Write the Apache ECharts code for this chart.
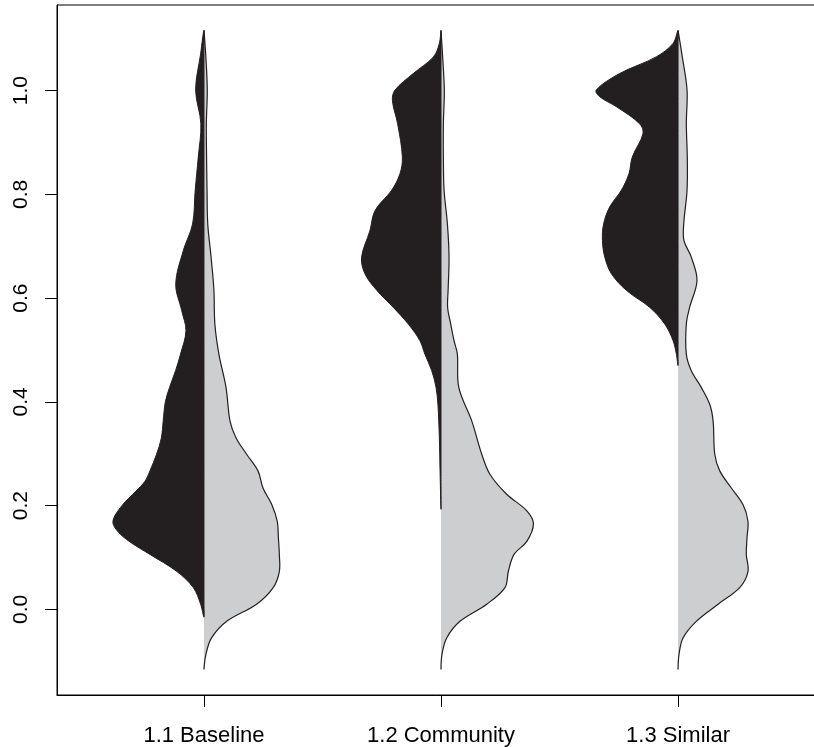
<!DOCTYPE html>
<html>
<head>
<meta charset="utf-8">
<script src="https://cdn.jsdelivr.net/npm/echarts@6/dist/echarts.min.js"></script>
<style>
  html, body { margin: 0; padding: 0; background: #fff; }
  #main { width: 814px; height: 747px; }
</style>
</head>
<body>
<div id="main"></div>
<script>
// bean names on the x axis
var categories = ['1.1 Baseline', '1.2 Community', '1.3 Similar'];
var yTicks = [0, 0.2, 0.4, 0.6, 0.8, 1.0];

// half widths of each bean, [value, width in x units], top to bottom
var baselineLeft = [[1.116,0],[1.071,0.014],[1.001,0.035],[0.936,0.013],[0.872,0.024],[0.808,0.037],[0.743,0.048],[0.692,0.087],[0.627,0.119],[0.576,0.094],[0.537,0.076],[0.492,0.099],[0.46,0.120],[0.428,0.145],[0.40,0.163],[0.363,0.172],[0.33,0.180],[0.299,0.200],[0.267,0.228],[0.247,0.249],[0.228,0.287],[0.2,0.346],[0.17,0.384],[0.15,0.363],[0.13,0.312],[0.106,0.228],[0.073,0.114],[0.042,0.045],[0.01,0.014],[-0.015,0]];
var baselineRight = [[1.116,0],[1.065,0.008],[1.001,0.014],[0.936,0.010],[0.872,0.011],[0.808,0.013],[0.743,0.016],[0.679,0.030],[0.615,0.042],[0.550,0.046],[0.492,0.063],[0.428,0.093],[0.363,0.110],[0.331,0.135],[0.299,0.180],[0.267,0.228],[0.234,0.249],[0.202,0.286],[0.170,0.309],[0.138,0.314],[0.106,0.318],[0.073,0.318],[0.042,0.292],[0.01,0.222],[-0.023,0.096],[-0.055,0.032],[-0.087,0.008],[-0.116,0]];

var communityLeft = [[1.116,0],[1.091,0.007],[1.065,0.032],[1.033,0.117],[1.001,0.194],[0.981,0.205],[0.936,0.183],[0.872,0.163],[0.840,0.173],[0.808,0.208],[0.769,0.278],[0.730,0.300],[0.679,0.335],[0.647,0.321],[0.615,0.271],[0.582,0.201],[0.550,0.138],[0.518,0.089],[0.492,0.068],[0.46,0.039],[0.428,0.021],[0.395,0.013],[0.331,0.007],[0.267,0.004],[0.193,0]];
var communityRight = [[1.116,0],[1.065,0.007],[1.001,0.014],[0.936,0.010],[0.872,0.010],[0.808,0.013],[0.743,0.027],[0.679,0.034],[0.615,0.030],[0.582,0.028],[0.550,0.041],[0.518,0.055],[0.492,0.069],[0.428,0.075],[0.363,0.130],[0.299,0.172],[0.26,0.207],[0.222,0.277],[0.19,0.362],[0.165,0.390],[0.131,0.362],[0.106,0.308],[0.073,0.284],[0.042,0.270],[0.01,0.193],[-0.023,0.080],[-0.055,0.024],[-0.087,0.004],[-0.116,0]];

var similarLeft = [[1.116,0],[1.091,0.021],[1.065,0.092],[1.033,0.246],[1.001,0.345],[0.988,0.330],[0.969,0.260],[0.936,0.162],[0.917,0.148],[0.872,0.193],[0.840,0.207],[0.808,0.239],[0.776,0.288],[0.743,0.314],[0.711,0.319],[0.679,0.309],[0.647,0.281],[0.615,0.218],[0.582,0.119],[0.550,0.056],[0.518,0.021],[0.492,0.007],[0.47,0]];
var similarRight = [[1.116,0],[1.065,0.018],[1.001,0.038],[0.936,0.035],[0.872,0.039],[0.808,0.038],[0.743,0.024],[0.711,0.025],[0.679,0.056],[0.634,0.080],[0.582,0.049],[0.550,0.035],[0.492,0.035],[0.46,0.056],[0.428,0.098],[0.395,0.134],[0.363,0.148],[0.299,0.155],[0.267,0.176],[0.234,0.225],[0.202,0.274],[0.17,0.295],[0.138,0.291],[0.106,0.288],[0.073,0.295],[0.042,0.260],[0.01,0.169],[-0.023,0.077],[-0.055,0.021],[-0.087,0.004],[-0.116,0]];

var leftSides = [baselineLeft, communityLeft, similarLeft];
var rightSides = [baselineRight, communityRight, similarRight];

var DARK = '#231f20';
var LIGHT = '#cdcecf';
var FONT = 'Liberation Sans, Arial, Helvetica, sans-serif';

var chart = echarts.init(document.getElementById('main'), null, {renderer: 'canvas'});

// one half of a bean: filled polygon, plus outline on the curved edge
function halfShape(api, c, side, dir, fill, outline) {
    var edge = side.map(function (p) { return api.coord([c + dir * p[1], p[0]]); });
    var centre = side.slice(1, side.length - 1).reverse().map(function (p) { return api.coord([c, p[0]]); });
    var kids = [{
        type: 'polygon',
        shape: {points: edge.concat(centre), smooth: 0.35},
        style: {fill: fill, stroke: outline ? null : fill, lineWidth: outline ? 0 : 1}
    }];
    if (outline) {
        kids.push({
            type: 'polyline',
            shape: {points: edge, smooth: 0.35},
            style: {fill: null, stroke: DARK, lineWidth: 1.2}
        });
    }
    return kids;
}

var option = {
    backgroundColor: '#fff',
    animation: false,
    grid: {
        left: 57, top: 5, width: 768, height: 690,
        outerBoundsMode: 'none',
        containLabel: false,
        show: true, borderColor: '#000', borderWidth: 1, backgroundColor: 'transparent'
    },
    xAxis: {
        type: 'value',
        min: 0.38, max: 3.62,
        splitLine: {show: false},
        axisLine: {show: true, onZero: false, lineStyle: {color: '#000', width: 1}},
        axisTick: {show: true, length: 12, customValues: [1, 2, 3], lineStyle: {color: '#000'}},
        axisLabel: {
            customValues: [1, 2, 3],
            margin: 30,
            color: '#000', fontFamily: FONT, fontSize: 22,
            formatter: function (v) { return categories[Math.round(v) - 1]; }
        }
    },
    yAxis: {
        type: 'value',
        min: -0.165, max: 1.165,
        splitLine: {show: false},
        axisLine: {show: true, onZero: false, lineStyle: {color: '#000', width: 1}},
        axisTick: {show: true, length: 12, customValues: yTicks, lineStyle: {color: '#000'}},
        axisLabel: {
            customValues: yTicks,
            rotate: 90,
            margin: 25,
            color: '#000', fontFamily: FONT, fontSize: 21,
            formatter: function (v) { return v.toFixed(1); }
        }
    },
    series: [{
        type: 'custom',
        data: [[1], [2], [3]],
        encode: {x: 0},
        renderItem: function (params, api) {
            var i = params.dataIndex;
            var c = i + 1;
            var kids = halfShape(api, c, rightSides[i], 1, LIGHT, true)
                .concat(halfShape(api, c, leftSides[i], -1, DARK, false));
            return {type: 'group', children: kids};
        }
    }]
};

chart.setOption(option);
</script>
</body>
</html>
